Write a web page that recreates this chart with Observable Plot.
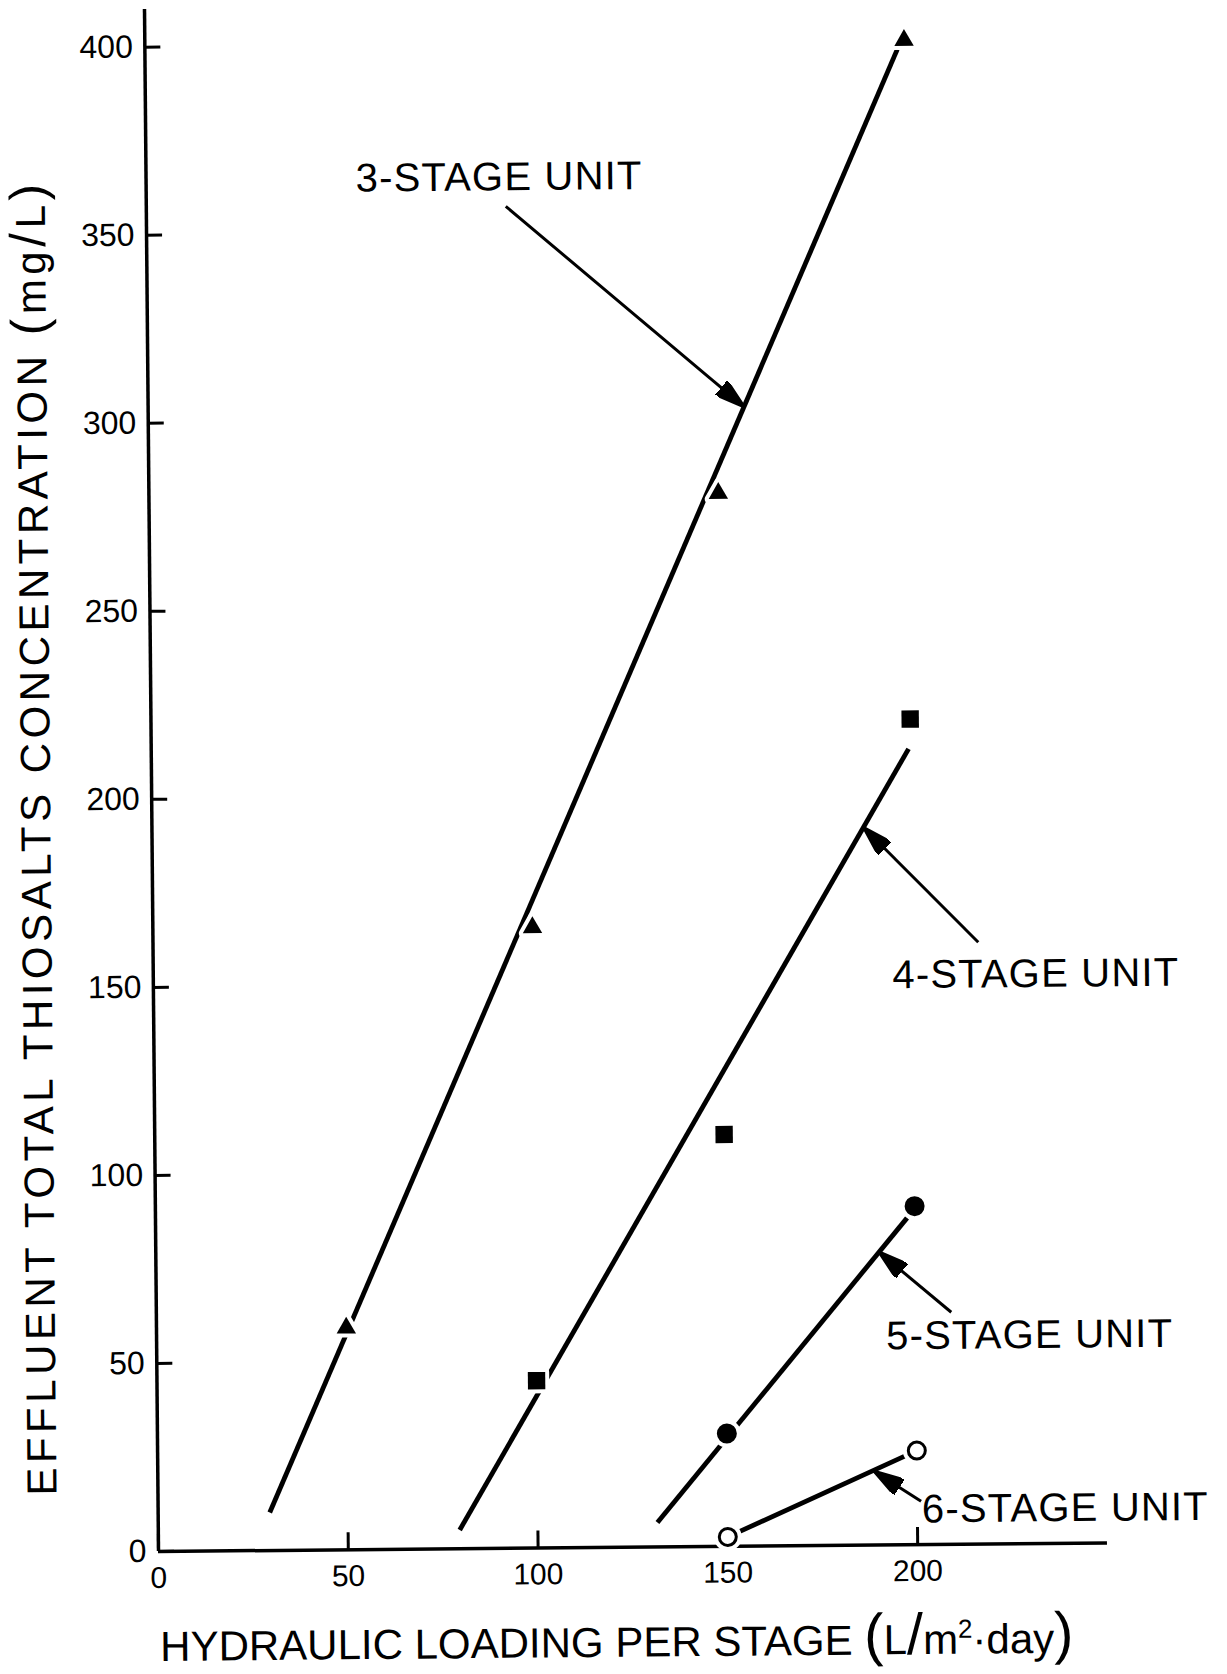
<!DOCTYPE html>
<html>
<head>
<meta charset="utf-8">
<script src="https://cdn.jsdelivr.net/npm/d3@7"></script>
<script src="https://cdn.jsdelivr.net/npm/@observablehq/plot@0.6"></script>
<style>
  html, body { margin: 0; padding: 0; background: #fff; overflow: hidden; }
  #chart svg { display: block; transform: rotate(-0.52deg); transform-origin: 158px 1551px; }
</style>
</head>
<body>
<div id="chart"></div>
<script>
// Axis ticks
const xTicks = [0, 50, 100, 150, 200];
const yTicks = [0, 50, 100, 150, 200, 250, 300, 350, 400];

// Measured effluent thiosalts (mg/L) against hydraulic loading per stage (L/m²·day)
const threeStageLoading = [50, 100, 150, 200];
const threeStageConc = [59, 165, 280, 400];
const fourStageLoading = [100, 150, 200];
const fourStageConc = [44.5, 109.5, 219.5];
const fiveStageLoading = [150, 200];
const fiveStageConc = [30, 90];
const sixStageLoading = [150, 200];
const sixStageConc = [2.5, 25];

// Fitted trend lines, one per unit (start and end points)
const unitNames = ["3-STAGE UNIT", "4-STAGE UNIT", "5-STAGE UNIT", "6-STAGE UNIT"];
const fitStartLoading = [29.4, 79.4, 131.5, 150];
const fitStartConc = [10.1, 5, 6.5, 2.5];
const fitEndLoading = [198.2, 199.5, 198, 200];
const fitEndConc = [397.6, 211.6, 86.9, 25];

// Unit labels and the arrows pointing from them to their lines
const labelLoading = [93, 232.5, 230, 239];
const labelConc = [364.5, 151.4, 55.4, 9.3];
const arrowTailLoading = [94.7, 217.4, 209.4, 201];
const arrowTailConc = [356.8, 160, 61.7, 11.5];
const arrowTipLoading = [157, 187.5, 190.5, 188.7];
const arrowTipConc = [302.9, 190.8, 77.9, 19.6];

const xTitle = "HYDRAULIC LOADING PER STAGE (L/m²·day)";
const yTitle = "EFFLUENT TOTAL THIOSALTS CONCENTRATION (mg/L)";

// ---- tables built from the arrays above ----
const series = [
  [threeStageLoading, threeStageConc],
  [fourStageLoading, fourStageConc],
  [fiveStageLoading, fiveStageConc],
  [sixStageLoading, sixStageConc]
].map(([xs, ys]) => xs.map((x, i) => ({loading: x, conc: ys[i]})));

const markerStyle = [
  {symbol: "triangle", r: 7.2, fill: "black", stroke: "none", strokeWidth: 0},
  {symbol: "square", r: 9.8, fill: "black", stroke: "none", strokeWidth: 0},
  {symbol: "circle", r: 10, fill: "black", stroke: "none", strokeWidth: 0},
  {symbol: "circle", r: 8.5, fill: "white", stroke: "black", strokeWidth: 3}
];

const fits = unitNames.map((name, i) => ({
  name, x1: fitStartLoading[i], y1: fitStartConc[i], x2: fitEndLoading[i], y2: fitEndConc[i]
}));
const labels = unitNames.map((name, i) => ({name, x: labelLoading[i], y: labelConc[i]}));
const arrows = unitNames.map((name, i) => ({
  name, x1: arrowTailLoading[i], y1: arrowTailConc[i], x2: arrowTipLoading[i], y2: arrowTipConc[i]
}));

// Solid triangular arrowhead
function solidHead(color) {
  return d3.create("svg:marker")
    .attr("viewBox", "-30 -9 31 18")
    .attr("markerUnits", "userSpaceOnUse")
    .attr("markerWidth", 31)
    .attr("markerHeight", 18)
    .attr("refX", 0)
    .attr("refY", 0)
    .attr("orient", "auto")
    .attr("fill", color)
    .call((m) => m.append("path").attr("d", "M0,0L-30,-9L-30,9Z"))
    .node();
}

const chart = Plot.plot({
  width: 1227,
  height: 1674,
  marginLeft: 158,
  marginRight: 120,
  marginTop: 9,
  marginBottom: 123,
  x: {domain: [0, 250]},
  y: {domain: [0, 410]},
  style: {
    fontFamily: "'Liberation Sans', Arial, Helvetica, sans-serif",
    background: "white",
    color: "black",
    overflow: "visible"
  },
  marks: [
    Plot.axisX({ticks: xTicks, tickSize: -17, tickPadding: 32, fontSize: 30, strokeWidth: 3, tickFormat: (d) => String(d), label: null}),
    Plot.axisY({ticks: yTicks, tickSize: -16, tickPadding: 28, fontSize: 32, strokeWidth: 3, tickFormat: (d) => String(d), label: null}),
    Plot.ruleX([0], {strokeWidth: 3.5}),
    Plot.ruleY([0], {strokeWidth: 3.5}),
    // fitted lines
    Plot.link(fits, {x1: "x1", y1: "y1", x2: "x2", y2: "y2", stroke: "black", strokeWidth: 4.8}),
    // white halos that open a gap in the line around each point
    ...series.map((pts, k) => Plot.dot(pts, {
      x: "loading", y: "conc", symbol: markerStyle[k].symbol, r: markerStyle[k].r,
      fill: "white", stroke: "white", strokeWidth: 8 + markerStyle[k].strokeWidth, strokeLinejoin: "round"
    })),
    ...series.map((pts, k) => Plot.dot(pts, {
      x: "loading", y: "conc", symbol: markerStyle[k].symbol, r: markerStyle[k].r,
      fill: markerStyle[k].fill, stroke: markerStyle[k].stroke, strokeWidth: markerStyle[k].strokeWidth
    })),
    // annotation arrows and unit names
    Plot.link(arrows, {x1: "x1", y1: "y1", x2: "x2", y2: "y2", stroke: "black", strokeWidth: 3, markerEnd: solidHead}),
    Plot.text(labels, {x: "x", y: "y", text: "name", fontSize: 40, fill: "black"}),
    // axis titles
    Plot.text([yTitle], {frameAnchor: "left", textAnchor: "middle", lineAnchor: "middle", dx: -115, dy: 56, rotate: -90, fontSize: 42, fill: "black"}),
    Plot.text([xTitle], {frameAnchor: "bottom", textAnchor: "middle", lineAnchor: "middle", dx: -17, dy: 96, fontSize: 42, fill: "black"})
  ]
});

// Typeset the axis titles: tall parentheses and slash, raised superscript
function dressTitle(node, content, bigSize, supSize, supShift) {
  const t = d3.select(node);
  t.text(null);
  let run = "";
  let pendingDy = 0;
  const add = (s, size, dy) => {
    const ts = t.append("tspan").text(s);
    if (size) ts.attr("font-size", size);
    if (dy) ts.attr("dy", dy);
    return ts;
  };
  const flush = () => {
    if (run) { add(run, null, pendingDy); pendingDy = 0; }
    run = "";
  };
  for (const ch of content) {
    if (ch === "(" || ch === ")" || ch === "/") {
      flush();
      add(ch, bigSize, pendingDy); pendingDy = 0;
    } else if (ch === "²") {
      flush();
      add("2", supSize, -supShift + pendingDy);
      pendingDy = supShift;
    } else {
      run += ch;
    }
  }
  flush();
}

const svg = d3.select(chart);
svg.selectAll("text").each(function() {
  const s = this.textContent;
  if (s === yTitle) {
    d3.select(this).attr("letter-spacing", 4.5);
    dressTitle(this, yTitle, 50, 26, 16);
  } else if (s === xTitle) {
    dressTitle(this, xTitle, 58, 26, 16);
  } else if (unitNames.includes(s)) {
    d3.select(this).attr("letter-spacing", 1.2);
  }
});

document.getElementById("chart").append(chart);
</script>
</body>
</html>
